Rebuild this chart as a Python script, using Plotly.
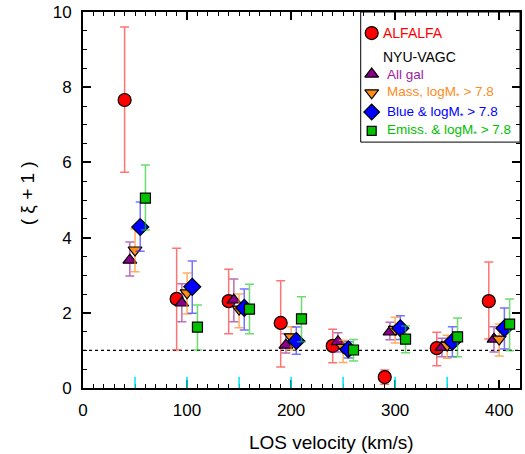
import plotly.graph_objects as go

# ---------------- data ----------------
# ALFALFA
alf_x  = [40, 90, 140, 190, 240, 290, 340, 390]
alf_y  = [7.66, 2.37, 2.31, 1.73, 1.12, 0.29, 1.06, 2.31]
alf_hi = [9.60, 3.72, 3.16, 2.85, 1.56, 0.48, 1.48, 3.35]
alf_lo = [5.74, 1.01, 1.44, 0.56, 0.67, 0.10, 0.59, 1.30]

# NYU-VAGC: All gal
all_x  = [45, 95, 145, 195, 245, 295, 345, 395]
all_y  = [3.40, 2.26, 2.34, 1.14, 1.23, 1.49, 1.08, 1.30]
all_hi = [3.88, 2.77, 2.90, 1.44, 1.47, 1.75, 1.32, 1.63]
all_lo = [2.98, 1.76, 1.76, 0.93, 0.96, 1.28, 0.83, 0.96]

# Mass, logM* > 7.8
mass_x  = [50, 100, 150, 200, 250, 300, 350, 400]
mass_y  = [3.67, 2.53, 2.10, 1.36, 1.08, 1.56, 1.14, 1.30]
mass_hi = [4.23, 3.06, 2.50, 1.63, 1.27, 1.88, 1.40, 1.70]
mass_lo = [3.09, 1.97, 1.60, 1.01, 0.68, 1.20, 0.79, 0.85]

# Blue & logM* > 7.8
blue_x  = [55, 105, 155, 205, 255, 305, 355, 405]
blue_y  = [4.28, 2.69, 2.13, 1.25, 1.03, 1.59, 1.23, 1.59]
blue_hi = [4.95, 3.38, 2.63, 1.62, 1.23, 1.92, 1.63, 2.13]
blue_lo = [3.64, 1.99, 1.54, 0.90, 0.80, 1.29, 0.83, 1.04]

# Emiss. & logM* > 7.8
em_x  = [60, 110, 160, 210, 260, 310, 360, 410]
em_y  = [5.05, 1.62, 2.10, 1.84, 1.01, 1.30, 1.36, 1.70]
em_hi = [5.93, 2.21, 2.76, 2.43, 1.29, 1.65, 1.86, 2.37]
em_lo = [4.20, 1.01, 1.44, 1.23, 0.72, 0.94, 0.83, 0.99]

bin_edges = [50, 100, 150, 200, 250, 300, 350]
ref_level = 1.0

x_ticks = [0, 100, 200, 300, 400]
y_ticks = [0, 2, 4, 6, 8, 10]

# ---------------- figure ----------------
fig = go.Figure()

def add_series(x, y, hi, lo, color, ecolor, symbol, size):
    fig.add_trace(go.Scatter(
        x=x, y=y, mode="markers", showlegend=False,
        marker=dict(symbol=symbol, size=size, color=color,
                    line=dict(color="black", width=1.2)),
        error_y=dict(type="data", symmetric=False,
                     array=[h - v for h, v in zip(hi, y)],
                     arrayminus=[v - l for v, l in zip(y, lo)],
                     color=ecolor, thickness=1.5, width=4.5),
    ))

RED, PURPLE, ORANGE, BLUE, GREEN = "#ff0000", "#8b008b", "#ff8c1a", "#0000ff", "#00c000"

add_series(alf_x, alf_y, alf_hi, alf_lo, RED, "rgba(255,40,40,0.65)", "circle", 13)
add_series(all_x, all_y, all_hi, all_lo, PURPLE, "rgba(150,30,150,0.65)", "triangle-up", 12)
add_series(mass_x, mass_y, mass_hi, mass_lo, ORANGE, "rgba(255,140,30,0.7)", "triangle-down", 12)
add_series(blue_x, blue_y, blue_hi, blue_lo, BLUE, "rgba(40,40,255,0.65)", "diamond", 13)
add_series(em_x, em_y, em_hi, em_lo, GREEN, "rgba(30,200,30,0.65)", "square", 10)

shapes = []
# reference dotted line
shapes.append(dict(type="line", xref="x", yref="y", x0=0, x1=420, y0=ref_level, y1=ref_level,
                   line=dict(color="black", width=1.3, dash="dot"), layer="below"))
# cyan bin-edge ticks
for e in bin_edges:
    shapes.append(dict(type="line", xref="x", yref="y", x0=e, x1=e, y0=0, y1=0.3,
                       line=dict(color="#00e5ee", width=1.5), layer="above"))
# legend box
shapes.append(dict(type="rect", xref="paper", yref="paper", x0=0.6355, x1=1.0, y0=0.654, y1=1.0,
                   line=dict(color="black", width=1), fillcolor="rgba(0,0,0,0)"))

# legend glyphs on an overlay axis
leg_sym = ["circle", "triangle-up", "triangle-down", "diamond", "square"]
leg_col = [RED, PURPLE, ORANGE, BLUE, GREEN]
leg_size = [13, 12, 12, 12, 9]
leg_yp = [0.944, 0.835, 0.785, 0.734, 0.684]
for s, c, z, yp in zip(leg_sym, leg_col, leg_size, leg_yp):
    fig.add_trace(go.Scatter(x=[0.6606], y=[yp], xaxis="x2", yaxis="y2", mode="markers",
                             showlegend=False, hoverinfo="skip",
                             marker=dict(symbol=s, size=z, color=c,
                                         line=dict(color="black", width=1.2))))

FONT = "Liberation Sans, Arial, Helvetica, sans-serif"
ann = []
leg_txt = [("ALFALFA", RED, 0.681, 0.944, 14),
           ("NYU-VAGC", "black", 0.681, 0.880, 14),
           ("All gal", "#a020a0", 0.692, 0.835, 13.5),
           ("Mass, logM<sub>*</sub> > 7.8", "#ff8c1a", 0.692, 0.785, 13.5),
           ("Blue & logM<sub>*</sub> > 7.8", "#0000ff", 0.692, 0.734, 13.5),
           ("Emiss. & logM<sub>*</sub> > 7.8", "#00c000", 0.692, 0.684, 13.5)]
for t, c, xp, yp, fs in leg_txt:
    ann.append(dict(text=t, x=xp, y=yp, xref="paper", yref="paper", xanchor="left",
                    yanchor="middle", showarrow=False, font=dict(color=c, size=fs, family=FONT)))
# axis titles
ann.append(dict(text="LOS velocity (km/s)", xref="paper", yref="paper",
                x=(333 - 83) / 439, y=-(443 - 388) / 376, xanchor="center", yanchor="middle",
                showarrow=False, font=dict(size=19, family=FONT, color="black")))
ann.append(dict(text="( ξ + 1 )", x=-(83 - 27) / 439, y=(388 - 193) / 376, xref="paper", yref="paper",
                textangle=-90, showarrow=False, xanchor="center", yanchor="middle",
                font=dict(size=19, family=FONT, color="black")))

axis_common = dict(showgrid=False, zeroline=False, showline=True, linecolor="black", linewidth=2,
                   mirror="allticks", ticks="inside", ticklen=8, tickwidth=1.5, tickcolor="black",
                   tickfont=dict(size=17, family=FONT, color="black"))

fig.update_layout(
    width=525, height=454,
    margin=dict(l=83, r=3, t=12, b=66),
    paper_bgcolor="white", plot_bgcolor="white",
    showlegend=False,
    xaxis=dict(range=[0, 420], tickvals=x_ticks, ticklabelstandoff=6,
               minor=dict(dtick=10, ticks="inside", ticklen=4, tickwidth=1, tickcolor="black", showgrid=False),
               **axis_common),
    yaxis=dict(range=[0, 10], tickvals=y_ticks, ticklabelstandoff=6,
               minor=dict(dtick=0.5, ticks="inside", ticklen=4, tickwidth=1, tickcolor="black", showgrid=False),
               **axis_common),
    xaxis2=dict(range=[0, 1], overlaying="x", visible=False, domain=[0, 1]),
    yaxis2=dict(range=[0, 1], overlaying="y", visible=False),
    shapes=shapes,
    annotations=ann,
)

fig.write_html("out.html", config={"displayModeBar": False},
               post_script="document.body.style.margin='0';document.body.style.padding='0';")
